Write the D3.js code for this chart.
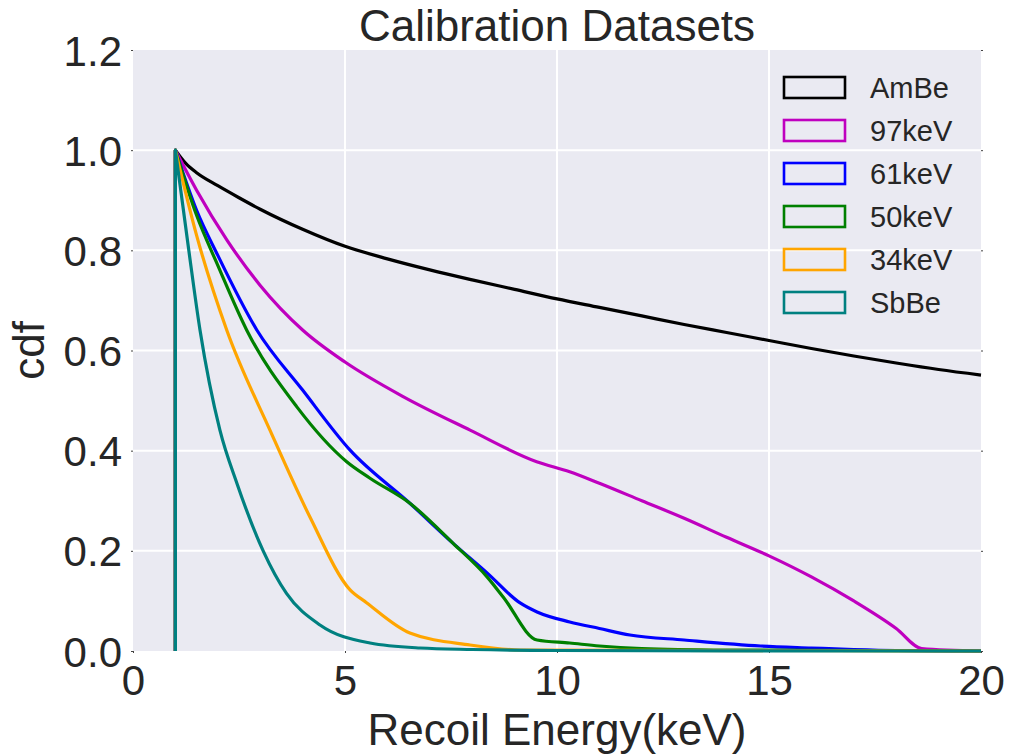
<!DOCTYPE html>
<html>
<head>
<meta charset="utf-8">
<script src="https://cdn.jsdelivr.net/npm/d3@7"></script>
<style>
body { margin: 0; background: #fff; font-family: "Liberation Sans", Arial, sans-serif; }
</style>
</head>
<body>
<div id="chart"></div>
<script>
var names = ['AmBe', '97keV', '61keV', '50keV', '34keV', 'SbBe'];
var colors = ['#000000', '#bf00bf', '#0000ff', '#008000', '#ffa500', '#008080'];

var xTicks = [0, 5, 10, 15, 20];
var yTicks = [0.0, 0.2, 0.4, 0.6, 0.8, 1.0, 1.2];

// cdf curves, [energy, cdf]
var ambe = [[1,1],[1.25,0.973],[1.5,0.955],[2,0.929],[2.5,0.905],[3,0.882],[4,0.842],[5,0.808],[6,0.783],[7,0.761],[8,0.741],[9,0.722],[10,0.703],[11,0.686],[12,0.669],[13,0.652],[14,0.636],[15,0.62],[16,0.604],[17,0.589],[18,0.575],[19,0.562],[20,0.551]];
var kev97 = [[1,1],[1.5,0.92],[2.22,0.82],[3,0.73],[4,0.641],[5,0.577],[6.37,0.508],[7.95,0.441],[9.52,0.378],[10.3,0.358],[11,0.335],[12,0.3],[13,0.265],[14,0.227],[15,0.19],[16,0.148],[17,0.1],[18,0.045],[18.6,0.005],[20,0.0]];
var kev61 = [[1,1],[1.5,0.88],[2,0.79],[2.92,0.641],[4,0.521],[5.12,0.401],[6.53,0.295],[7.55,0.215],[8.35,0.156],[9.13,0.096],[9.53,0.078],[10.3,0.058],[11,0.045],[11.72,0.032],[13,0.022],[14.8,0.01],[16,0.006],[17,0.003],[18,0.001],[20,0.0]];
var kev50 = [[1,1],[1.5,0.87],[2,0.77],[2.68,0.641],[3.86,0.488],[5.04,0.378],[5.59,0.345],[6.53,0.295],[7.55,0.215],[8.35,0.148],[8.73,0.108],[9.53,0.022],[10.3,0.016],[11,0.01],[12,0.005],[14,0.002],[20,0.0]];
var kev34 = [[1,1],[1.5,0.83],[2.21,0.641],[3.23,0.441],[4.17,0.268],[5.12,0.122],[5.5,0.097],[6.53,0.036],[7.95,0.012],[9.13,0.002],[20,0.0]];
var sbbe = [[1,1],[1.3,0.81],[1.58,0.641],[2.05,0.441],[2.45,0.335],[3.07,0.2],[3.62,0.115],[4.41,0.052],[5.59,0.016],[6.77,0.006],[8,0.003],[10,0.001],[20,0.0]];
var series = [ambe, kev97, kev61, kev50, kev34, sbbe];

var W = 1009, H = 754;
var margin = {left: 133, right: 28, top: 50, bottom: 103};

var svg = d3.select('#chart').append('svg').attr('width', W).attr('height', H);

var x = d3.scaleLinear().domain([0, 20]).range([margin.left, W - margin.right]);
var y = d3.scaleLinear().domain([0, 1.2]).range([H - margin.bottom, margin.top]);

svg.append('rect')
    .attr('x', x(0)).attr('y', y(1.2))
    .attr('width', x(20) - x(0)).attr('height', y(0) - y(1.2))
    .attr('fill', '#eaeaf2');

svg.append('clipPath').attr('id', 'clip').append('rect')
    .attr('x', x(0)).attr('y', y(1.2) - 2)
    .attr('width', x(20) - x(0) + 2).attr('height', y(0) - y(1.2) + 4);

// grid
var grid = svg.append('g');
grid.selectAll('.gx').data(xTicks.slice(1, -1)).enter().append('line')
    .attr('x1', function(d) { return x(d); }).attr('x2', function(d) { return x(d); })
    .attr('y1', y(0)).attr('y2', y(1.2))
    .attr('stroke', '#fff').attr('stroke-width', 2);
grid.selectAll('.gy').data(yTicks.slice(1, -1)).enter().append('line')
    .attr('x1', x(0)).attr('x2', x(20))
    .attr('y1', function(d) { return y(d); }).attr('y2', function(d) { return y(d); })
    .attr('stroke', '#fff').attr('stroke-width', 2);

// axes: labels only, tiny ticks
var xAxis = d3.axisBottom(x).tickValues(xTicks).tickFormat(d3.format('d')).tickSize(2).tickPadding(8);
var yAxis = d3.axisLeft(y).tickValues(yTicks).tickFormat(d3.format('.1f')).tickSize(2).tickPadding(9);

var gx = svg.append('g').attr('transform', 'translate(0,' + y(0) + ')').call(xAxis);
var gy = svg.append('g').attr('transform', 'translate(' + x(0) + ',0)').call(yAxis);
var gyr = svg.append('g').attr('transform', 'translate(' + x(20) + ',0)').call(d3.axisRight(y).tickValues(yTicks).tickSize(2).tickFormat(''));
[gx, gy, gyr].forEach(function(g) {
    g.select('.domain').remove();
    g.selectAll('.tick line').attr('stroke', '#444');
    g.selectAll('.tick text')
        .attr('fill', '#262626')
        .style('font-family', '"Liberation Sans", Arial, sans-serif')
        .style('font-size', '42px');
});
gx.selectAll('.tick text').attr('dy', '0.8em');
gy.selectAll('.tick text').attr('dy', '0.36em');

var line = d3.line()
    .curve(d3.curveMonotoneX)
    .x(function(d) { return x(d[0]); })
    .y(function(d) { return y(d[1]); });

var curves = svg.append('g').attr('clip-path', 'url(#clip)');
series.forEach(function(s, i) {
    // vertical rise at 1 keV, then the falling cdf
    curves.append('path')
        .attr('d', 'M' + x(1) + ',' + y(0) + 'L' + line(s).slice(1))
        .attr('fill', 'none')
        .attr('stroke', colors[i])
        .attr('stroke-width', 3.2)
        .attr('stroke-linejoin', 'round');
});

// title and axis labels
svg.append('text').text('Calibration Datasets')
    .attr('x', (x(0) + x(20)) / 2).attr('y', 41)
    .attr('text-anchor', 'middle').attr('fill', '#262626')
    .style('font-size', '44px');
svg.append('text').text('Recoil Energy(keV)')
    .attr('x', (x(0) + x(20)) / 2).attr('y', 745)
    .attr('text-anchor', 'middle').attr('fill', '#262626')
    .style('font-size', '44px');
svg.append('text').text('cdf')
    .attr('transform', 'translate(44,' + ((y(0) + y(1.2)) / 2) + ') rotate(-90)')
    .attr('text-anchor', 'middle').attr('fill', '#262626')
    .style('font-size', '44px');

// legend
var legend = svg.append('g');
var rows = legend.selectAll('g').data(names).enter().append('g')
    .attr('transform', function(d, i) { return 'translate(784,' + (77 + i * 43) + ')'; });
rows.append('rect')
    .attr('width', 61).attr('height', 21)
    .attr('fill', 'none')
    .attr('stroke', function(d, i) { return colors[i]; })
    .attr('stroke-width', 2.6);
rows.append('text').text(function(d) { return d; })
    .attr('x', 86).attr('y', 21)
    .attr('fill', '#262626')
    .style('font-size', '29px');
</script>
</body>
</html>
